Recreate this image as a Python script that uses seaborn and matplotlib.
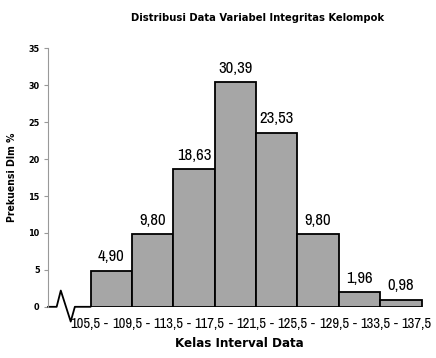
import matplotlib
matplotlib.use('Agg')
import matplotlib.pyplot as plt
import matplotlib.transforms as mtransforms
import seaborn as sns
import pandas as pd

# bins and percentages
edges = ['105,5', '109,5', '113,5', '117,5', '121,5', '125,5', '129,5', '133,5', '137,5']
values = [4.90, 9.80, 18.63, 30.39, 23.53, 9.80, 1.96, 0.98]
value_labels = ['4,90', '9,80', '18,63', '30,39', '23,53', '9,80', '1,96', '0,98']
classes = [f'{a} - {b}' for a, b in zip(edges[:-1], edges[1:])]
y_ticks = [0, 5, 10, 15, 20, 25, 30, 35]

# axis break (zigzag) drawn before the first class
break_x = [-1.53, -1.32, -1.22, -0.98, -0.88, -0.5]
break_y = [0, 0, 2.2, -2.0, 0, 0]

NUM = dict(family=['Archivo Narrow', 'DejaVu Sans'])
BOLD = dict(family=['DejaVu Sans'], fontstretch='condensed', fontweight='bold')

sns.set_theme(style='white')
plt.rcParams['font.family'] = ['Archivo Narrow', 'DejaVu Sans']
plt.rcParams['text.color'] = 'black'
plt.rcParams['axes.labelcolor'] = 'black'
plt.rcParams['xtick.color'] = 'black'
plt.rcParams['ytick.color'] = 'black'

df = pd.DataFrame({'kelas': classes, 'persen': values})

fig = plt.figure(figsize=(4.36, 3.58), dpi=100)
ax = fig.add_axes([0.110, 0.143, 0.876, 0.722])

sns.barplot(data=df, x='kelas', y='persen', ax=ax, color='#a6a6a6',
            edgecolor='black', linewidth=1.3, width=1.0, saturation=1)

for i, (v, lab) in enumerate(zip(values, value_labels)):
    ax.text(i, v + 0.9, lab, ha='center', va='bottom', fontsize=12, **NUM)

ax.plot(break_x, break_y, color='black', linewidth=1.3, clip_on=False)

ax.set_xlim(-1.53, 7.7)
ax.set_ylim(0, 35)
ax.set_yticks(y_ticks)
ax.set_yticklabels([str(t) for t in y_ticks], fontsize=6.5, **BOLD)
ax.tick_params(axis='y', left=True, length=3, width=0.8, color='#999999',
               labelcolor='black', pad=3)

shift = mtransforms.ScaledTranslation(-5 / 100, 0, fig.dpi_scale_trans)
pos = [i - 0.5 for i in range(len(edges))]
ax.set_xticks(pos)
ax.set_xticklabels(edges, fontsize=10.5, **NUM)
ax.tick_params(axis='x', bottom=False, length=0, pad=7)
for lab in ax.get_xticklabels():
    lab.set_transform(lab.get_transform() + shift)
# dashes between the class limits, on the same line as the numbers
xform = ax.get_xaxis_transform()
for i in range(len(values)):
    ax.text(i, -0.085, '-', ha='center', va='baseline', fontsize=10.5,
            transform=xform + shift, **NUM)

for side in ['top', 'right', 'bottom']:
    ax.spines[side].set_visible(False)
ax.spines['left'].set_color('#999999')
ax.spines['left'].set_linewidth(0.8)

ax.set_xlabel('Kelas Interval Data', fontsize=9.5, labelpad=5, **BOLD)
ax.set_ylabel('Prekuensi Dlm %', fontsize=7.5, labelpad=8, **BOLD)

fig.text(258 / 436, 1 - 18 / 358, 'Distribusi Data Variabel Integritas Kelompok',
         ha='center', va='center', fontsize=8, **BOLD)

fig.savefig('out.png', dpi=100)
